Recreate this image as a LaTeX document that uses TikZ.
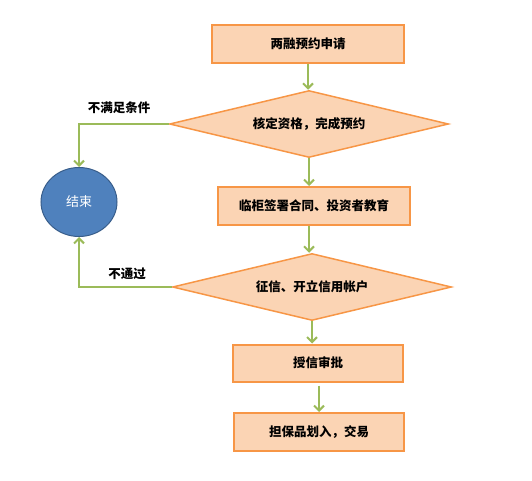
\documentclass[tikz,border=0pt]{standalone}
\usepackage{fontspec}
\newfontfamily\cjk{Noto Sans CJK SC}
\usetikzlibrary{shapes.geometric,arrows.meta}

\definecolor{boxfill}{HTML}{FBD4B4}
\definecolor{boxline}{HTML}{F79646}
\definecolor{flowline}{HTML}{9BBB59}
\definecolor{endfill}{HTML}{4F81BD}
\definecolor{endline}{HTML}{385D8A}

\begin{document}
\begin{tikzpicture}[x=1pt, y=-1pt,
            every node/.style={font=\cjk\bfseries\fontsize{12.5}{14}\selectfont},
            stepbox/.style={draw=boxline, fill=boxfill, line width=2pt, rectangle, inner sep=0pt},
            checkbox/.style={draw=boxline, fill=boxfill, line width=1.5pt, diamond, aspect=4.2, inner sep=0pt,
                             minimum width=279pt, minimum height=67pt},
            every path/.style={draw=flowline, line width=2pt, -{Straight Barb[length=5pt,width=10pt]}}]
        \useasboundingbox[draw=none] (0,0) rectangle (532,481);
        \node[stepbox, minimum width=192pt, minimum height=38pt] (apply) at (308,44) {两融预约申请};
        \node[checkbox] (check) at (309,124) {核定资格，完成预约};
        \node[stepbox, minimum width=192pt, minimum height=38pt] (sign) at (314,206) {临柜签署合同、投资者教育};
        \node[checkbox] (credit) at (312,287) {征信、开立信用帐户};
        \node[stepbox, minimum width=170pt, minimum height=37pt] (approve) at (318,363) {授信审批};
        \node[stepbox, minimum width=170pt, minimum height=38pt] (trade) at (319,432) {担保品划入，交易};
        \node[ellipse, draw=endline, fill=endfill, line width=1pt, minimum width=76pt, minimum height=69pt,
              text=white, font=\cjk\fontsize{13}{15}\selectfont] (finish) at (79,202) {结束};
        \node[draw=none] (nocond) at (119,108) {不满足条件};
        \node[draw=none] (nopass) at (127,274) {不通过};

        \draw (apply.south) -- (apply.south |- check.north);
        \draw (check.south) -- (check.south |- sign.north);
        \draw (check.south |- sign.south) -- (check.south |- credit.north);
        \draw (credit.south) -- (credit.south |- approve.north);
        \draw[shorten <=3pt] (approve.south -| trade.north) -- (trade.north);
        \draw (check.west) -| (finish.north);
        \draw (credit.west) -| (finish.south);
\end{tikzpicture}
\end{document}
